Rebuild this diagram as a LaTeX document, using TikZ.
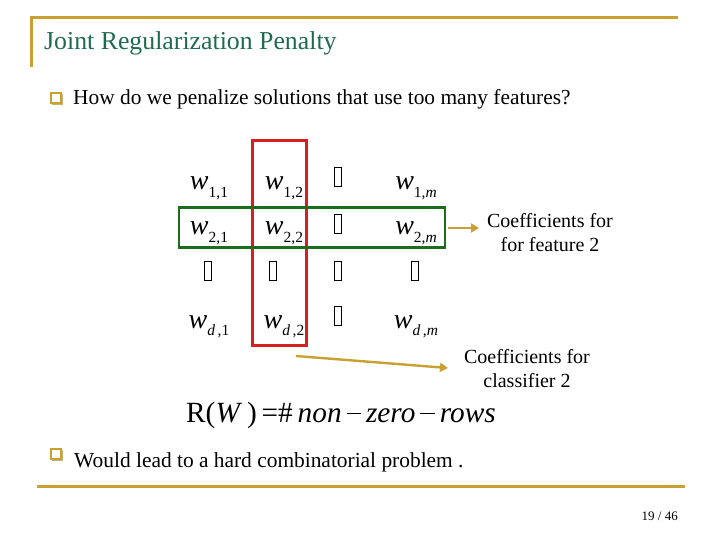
\documentclass[tikz,border=0pt]{standalone}
\usepackage{fontspec}
\setmainfont{Liberation Serif}
\usetikzlibrary{arrows.meta}
\definecolor{gold}{HTML}{C9A032}
\definecolor{golddark}{HTML}{A07E20}
\definecolor{titlegreen}{HTML}{1F6B4F}
\definecolor{boxgreen}{HTML}{1D6B1D}
\definecolor{boxred}{HTML}{D42020}
\newcommand{\wsub}[1]{\textit{w}\raisebox{-7pt}{\fontsize{15.5}{15.5}\selectfont #1}}
\newcommand{\mns}{\,\rule[0.26em]{0.5em}{0.045em}\,}
\tikzset{
  rule/.style={gold, line width=3pt},
  entry/.style={anchor=base, inner sep=0pt, font=\fontsize{28}{28}\selectfont},
  gap/.style={draw=black, line width=1pt, minimum width=6.5pt, minimum height=19pt, inner sep=0pt},
  bul/.style={draw=gold, line width=1.6pt, fill=white, minimum size=10pt, inner sep=0pt},
  bulshadow/.style={fill=golddark!60, minimum size=11pt, inner sep=0pt},
  body/.style={anchor=base west, inner sep=0pt, font=\fontsize{21.4}{21.4}\selectfont},
  note/.style={align=center, inner sep=0pt, font=\fontsize{20}{24}\selectfont},
  goldarrow/.style={gold, line width=2.4pt, -{Triangle[length=8pt,width=9pt]}}
}
\begin{document}
\begin{tikzpicture}[x=1pt,y=-1pt]
\useasboundingbox (0,0) rectangle (720,540);
% frame lines
\coordinate (tl) at (30,18);
\coordinate (tr) at (678,18);
\coordinate (lb) at (31,67);
\draw[rule] (tl) -- (tr);
\draw[rule] ([xshift=1pt]tl) -- (lb);
\coordinate (bl) at (37,486);
\coordinate (br) at (685,486);
\draw[rule] (bl) -- (br);
% title
\node[anchor=base west, inner sep=0pt, text=titlegreen, font=\fontsize{25.8}{25.8}\selectfont] (title) at (44,50) {Joint Regularization Penalty};
% bullet 1
\node[bulshadow] (b1s) at (57.5,99.5) {};
\node[bul] (b1) at (56,98) {};
\node[body] (t1) at (73,105) {How do we penalize solutions that use too many features?};
% matrix entries
\node[entry] (w11) at (209,190) {\wsub{1,1}};
\node[entry] (w12) at (284,190) {\wsub{1,2}};
\node[gap] (g13) at (338,177) {};
\node[entry] (w1m) at (416,190) {\wsub{1,\textit{m}}};
\node[entry] (w21) at (209,235) {\wsub{2,1}};
\node[entry] (w22) at (284,235) {\wsub{2,2}};
\node[gap] (g23) at (338,224) {};
\node[entry] (w2m) at (416,235) {\wsub{2,\textit{m}}};
\node[gap] (g31) at (208,271) {};
\node[gap] (g32) at (273,271) {};
\node[gap] (g33) at (338,271) {};
\node[gap] (g34) at (415,271) {};
\node[entry] (wd1) at (209,328) {\wsub{\textit{d}\,,1}};
\node[entry] (wd2) at (284,328) {\wsub{\textit{d}\,,2}};
\node[gap] (g43) at (338,316) {};
\node[entry] (wdm) at (416,328) {\wsub{\textit{d}\,,\textit{m}}};
% boxes
\node[draw=boxred, line width=2.8pt, minimum width=54pt, minimum height=205pt, inner sep=0pt] (colbox) at (279.5,243) {};
\node[draw=boxgreen, line width=2.8pt, minimum width=266pt, minimum height=40pt, inner sep=0pt] (rowbox) at (312,227.5) {};
% notes
\node[note] (n1) at (550,233) {Coefficients for\\for feature 2};
\node[note] (n2) at (527,369) {Coefficients for\\classifier 2};
\coordinate (a1s) at (448,228);
\coordinate (a1e) at (479,228);
\draw[goldarrow] (a1s) -- (a1e);
\coordinate (a2s) at (296,356);
\coordinate (a2e) at (448,368);
\draw[goldarrow] (a2s) -- (a2e);
% formula
\node[anchor=base west, inner sep=0pt, font=\fontsize{29.3}{29.3}\selectfont] (rw) at (186,422) {R(\textit{W}\,)\,=\#\,\textit{non}\mns\textit{zero}\mns\textit{rows}};
% bullet 2
\node[bulshadow] (b2s) at (57.5,455.5) {};
\node[bul] (b2) at (56,454) {};
\node[body] (t2) at (74,467) {Would lead to a hard combinatorial problem .};
% page number
\node[anchor=base east, inner sep=0pt, font=\fontsize{13}{13}\selectfont] (pg) at (678,520) {19 / 46};
\end{tikzpicture}
\end{document}
